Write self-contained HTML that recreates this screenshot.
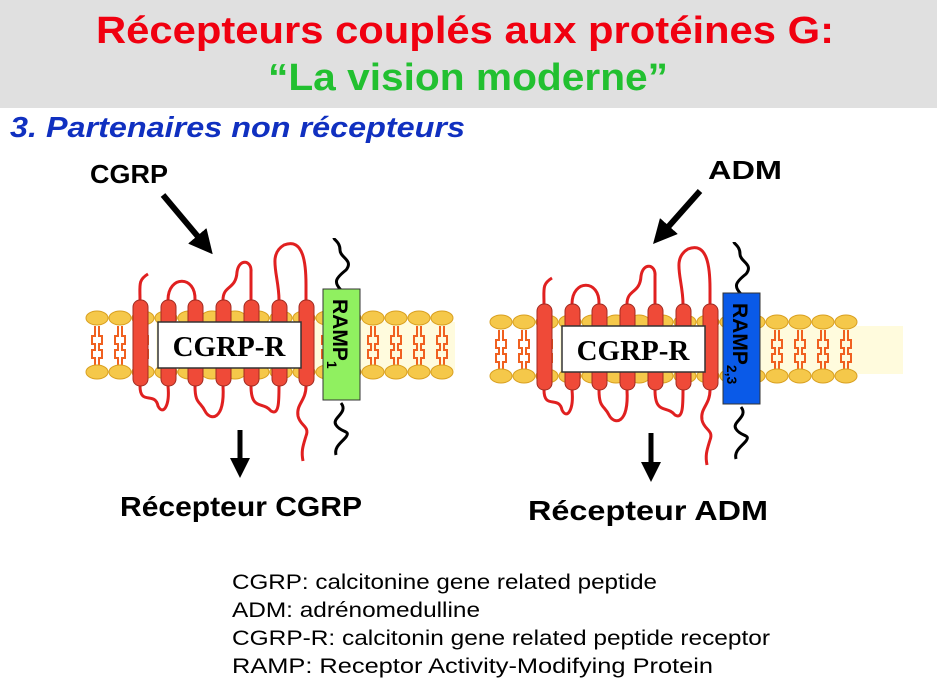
<!DOCTYPE html>
<html><head><meta charset="utf-8"><style>
html,body{margin:0;padding:0;background:#fff;}
body{width:939px;height:697px;overflow:hidden;position:relative;font-family:"Liberation Sans",sans-serif;}
</style></head><body>
<div style="position:absolute;left:0;top:0;width:937px;height:108px;background:#e0e0e0"></div>
<svg id="s" width="939" height="697" style="position:absolute;left:0;top:0" xmlns="http://www.w3.org/2000/svg">
<defs><marker id="ah" markerWidth="4" markerHeight="4" refX="2" refY="2" orient="auto"><path d="M0,0 L4,2 L0,4 z" fill="#000"/></marker></defs>
<g font-family="Liberation Sans" font-weight="bold">
<text x="96" y="43" font-size="38" fill="#f00010" textLength="738" lengthAdjust="spacingAndGlyphs">Récepteurs couplés aux protéines G:</text>
<text x="268" y="90" font-size="38" fill="#22c030" textLength="400" lengthAdjust="spacingAndGlyphs">“La vision moderne”</text>
<text x="10" y="137" font-size="29" font-style="italic" fill="#1030c0" textLength="455" lengthAdjust="spacingAndGlyphs">3. Partenaires non récepteurs</text>
<text x="90" y="183" font-size="26" textLength="78" lengthAdjust="spacingAndGlyphs">CGRP</text>
<text x="708" y="179" font-size="26" textLength="74" lengthAdjust="spacingAndGlyphs">ADM</text>
<text x="120" y="516" font-size="28" textLength="242" lengthAdjust="spacingAndGlyphs">Récepteur CGRP</text>
<text x="528" y="520" font-size="28" textLength="240" lengthAdjust="spacingAndGlyphs">Récepteur ADM</text>
</g>
<line x1="163" y1="195" x2="205" y2="245" stroke="#000" stroke-width="6" marker-end="url(#ah)"/>
<line x1="700" y1="191" x2="661" y2="235" stroke="#000" stroke-width="6" marker-end="url(#ah)"/>
<line x1="240" y1="430" x2="240" y2="468" stroke="#000" stroke-width="5" marker-end="url(#ah)"/>
<line x1="651" y1="433" x2="651" y2="472" stroke="#000" stroke-width="5" marker-end="url(#ah)"/>
<g id="g"></g>
<g font-family="Liberation Sans" font-size="21">
<text x="232" y="589" textLength="425" lengthAdjust="spacingAndGlyphs">CGRP: calcitonine gene related peptide</text>
<text x="232" y="617" textLength="248" lengthAdjust="spacingAndGlyphs">ADM: adrénomedulline</text>
<text x="232" y="645" textLength="538" lengthAdjust="spacingAndGlyphs">CGRP-R: calcitonin gene related peptide receptor</text>
<text x="232" y="673" textLength="481" lengthAdjust="spacingAndGlyphs">RAMP: Receptor Activity-Modifying Protein</text>
</g>
</svg>
<script>
var g=document.getElementById('g'),h='';
function dia(ox,oy,bandR,rampX,rampCol,sub){
 h+='<rect x="'+(ox+70)+'" y="'+(oy+4)+'" width="'+(bandR-ox-70)+'" height="48" fill="#fffbdd"/>';
 for(var x=ox;x<ox+360;x+=23){
  h+='<path d="M'+(x+9)+','+(oy+8)+' v10 h-3 v8 h3 v4 M'+(x+13)+','+(oy+8)+' v10 h3 v8 h-3 v4 M'+(x+9)+','+(oy+50)+' v-10 h-3 v-8 h3 v-4 M'+(x+13)+','+(oy+50)+' v-10 h3 v-8 h-3 v-4" stroke="#f06020" stroke-width="2" fill="none"/>';
  h+='<ellipse cx="'+(x+11)+'" cy="'+oy+'" rx="11" ry="7" fill="#f5c84a" stroke="#d9a020"/>';
  h+='<ellipse cx="'+(x+11)+'" cy="'+(oy+54)+'" rx="11" ry="7" fill="#f5c84a" stroke="#d9a020"/>';
 }
 var hx=[47,75,102,130,158,186,213];
 var r='stroke="#e02020" stroke-width="3" fill="none"';
 h+='<path d="M'+(ox+hx[0]+7)+','+(oy-18)+' c0,-15 -2,-20 8,-26" '+r+'/>';
 h+='<path d="M'+(ox+hx[1]+7)+','+(oy-18)+' c0,-25 28,-25 27,0" '+r+'/>';
 h+='<path d="M'+(ox+hx[3]+7)+','+(oy-18)+' c0,-15 13,-10 14,-28 c2,-14 15,-12 14,0 v46" '+r+'/>';
 h+='<path d="M'+(ox+hx[5]+7)+','+(oy-18)+' c0,-25 -12,-45 5,-55 c20,-8 22,20 22,40 v15" '+r+'/>';
 h+='<path d="M'+(ox+hx[0]+7)+','+(oy+68)+' c0,20 15,5 18,20 c5,10 12,0 10,-20" '+r+'/>';
 h+='<path d="M'+(ox+hx[2]+7)+','+(oy+68)+' c0,18 5,15 10,25 c5,10 20,10 18,-25" '+r+'/>';
 h+='<path d="M'+(ox+hx[4]+7)+','+(oy+68)+' c0,25 12,15 20,25 c8,5 8,-10 8,-25" '+r+'/>';
 h+='<path d="M'+(ox+hx[6]+7)+','+(oy+68)+' c0,15 -10,18 -8,30 c2,10 12,10 8,20 c-3,10 -5,15 -3,25" '+r+'/>';
 for(var i=0;i<7;i++)h+='<rect x="'+(ox+hx[i])+'" y="'+(oy-18)+'" width="15" height="86" rx="7" fill="#ef4a38" stroke="#a02a20"/>';
 h+='<rect x="'+(ox+72)+'" y="'+(oy+4)+'" width="143" height="46" fill="#fff" stroke="#333" stroke-width="1.5"/>';
 h+='<text x="'+(ox+143)+'" y="'+(oy+38)+'" font-family="Liberation Serif" font-weight="bold" font-size="29" text-anchor="middle">CGRP-R</text>';
 var rw=37;
 h+='<path d="M'+(rampX+18)+','+(oy-28)+' c-8,-8 -5,-12 5,-20 c8,-10 -6,-12 -6,-20 c0,-8 -6,-10 -6,-12" stroke="#000" stroke-width="3" fill="none"/>';
 h+='<path d="M'+(rampX+18)+','+(oy+85)+' c8,10 -10,15 -5,22 c5,8 15,5 10,12 c-5,6 -12,10 -10,18" stroke="#000" stroke-width="3" fill="none"/>';
 h+='<rect x="'+rampX+'" y="'+(oy-29)+'" width="'+rw+'" height="111" fill="'+rampCol+'" stroke="#333"/>';
 h+='<text transform="translate('+(rampX+10)+','+(oy-19)+') rotate(90)" font-family="Liberation Sans" font-weight="bold" font-size="21">RAMP<tspan font-size="14" dy="6">'+sub+'</tspan></text>';
}
dia(86,318,455,323,'#90f060','1');
dia(490,322,903,723,'#0a5ae8','2,3');
g.innerHTML=h;
</script>
</body></html>
